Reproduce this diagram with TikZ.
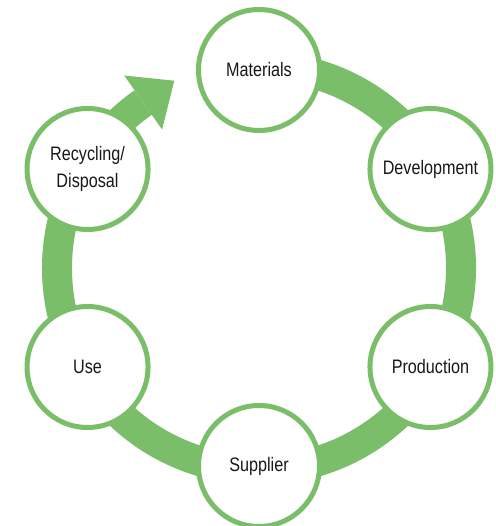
\documentclass[tikz,border=0pt]{standalone}
\usepackage{fontspec}
\setmainfont[FakeStretch=0.83]{Liberation Sans}
\usetikzlibrary{calc}
\definecolor{leaf}{RGB}{123,190,105}
\definecolor{ink}{RGB}{25,25,25}
\tikzset{
  stage/.style={circle, draw=leaf, line width=5pt, fill=white, minimum size=121pt,
    inner sep=0pt, text=ink, font=\fontsize{19.5}{27}\selectfont, align=center},
  ring/.style={draw=leaf, line width=30pt}
}
\begin{document}
\begin{tikzpicture}[x=1pt,y=1pt]
\useasboundingbox[fill=white] (0,0) rectangle (495,526);
\coordinate (C) at (259,258);
% ring and arrow
\draw[ring] ($(C)+(125:202)$) arc[start angle=125, end angle=450, radius=202];
\coordinate (B) at ($(C)+(125:202)$);
\fill[leaf] ($(B)+(125:33)$) -- ($(B)+(35:38)$) -- ($(B)+(-55:33)$) -- cycle;
% stages
\node[stage] (mat) at ($(C)+(90:198)$) {Materials};
\node[stage] (dev) at ($(C)+(30:198)$) {Development};
\node[stage] (pro) at ($(C)+(-30:198)$) {Production};
\node[stage] (sup) at ($(C)+(-90:198)$) {Supplier};
\node[stage] (use) at ($(C)+(-150:198)$) {Use};
\node[stage] (rec) at ($(C)+(150:198)$) {Recycling/\\Disposal};
\end{tikzpicture}
\end{document}
